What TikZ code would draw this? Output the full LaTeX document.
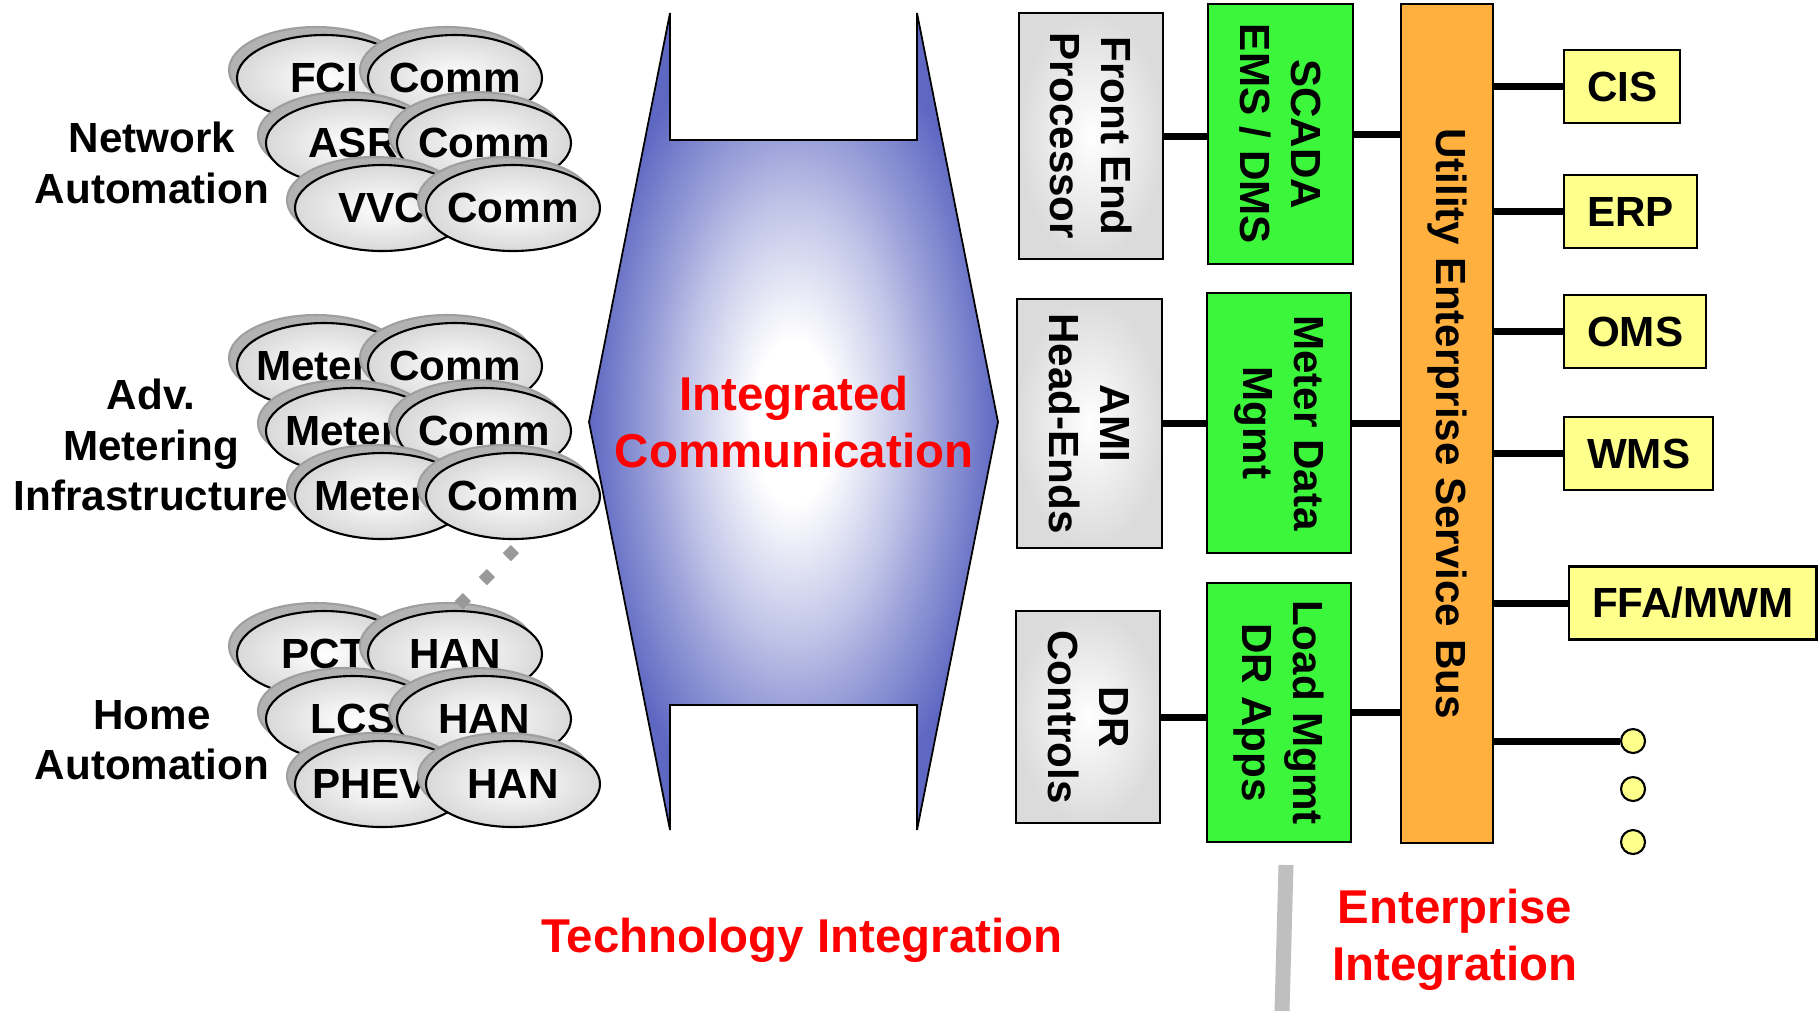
\documentclass[tikz,border=0pt]{standalone}
\usepackage{fontspec}
\setmainfont{Liberation Sans}
\usetikzlibrary{shapes.geometric,shadows}
\definecolor{commblue}{RGB}{94,104,194}
\definecolor{appgreen}{RGB}{60,246,60}
\definecolor{busorange}{RGB}{255,176,62}
\definecolor{extyellow}{RGB}{255,255,140}
\newcommand\lblfont{\fontsize{12}{14.4}\selectfont\bfseries}
\newcommand\redfont{\fontsize{13.5}{16.2}\selectfont\bfseries}
\pgfdeclareradialshading{commglow}{\pgfpoint{0bp}{0bp}}{color(0bp)=(white); color(5bp)=(white); color(13.5bp)=(commblue!40); color(17bp)=(commblue!60); color(25bp)=(commblue); color(50bp)=(commblue)}
\tikzset{
  ellnode/.style  = {ellipse, draw, line width=0.6pt, inner sep=0pt,
                     minimum width=17.4mm, minimum height=8.6mm,
                     inner color=white, outer color=gray!30, font=\lblfont,
                     drop shadow={shadow xshift=-0.8mm, shadow yshift=0.8mm,
                                  fill=gray!60, draw=gray!75, opacity=1}},
  rotbox/.style   = {rectangle, draw, line width=0.6pt, rotate=-90,
                     align=center, font=\lblfont, inner sep=0pt},
  sysbox/.style   = {rotbox, inner color=white, outer color=gray!28},
  appbox/.style   = {rotbox, fill=appgreen},
  busbox/.style   = {rotbox, fill=busorange},
  extbox/.style   = {rectangle, draw, line width=0.6pt, fill=extyellow,
                     font=\lblfont, inner xsep=2.3mm, minimum height=7.3mm,
                     anchor=west},
  enddot/.style   = {circle, draw, line width=0.6pt, fill=extyellow,
                     minimum size=2.4mm, inner sep=0pt},
  link/.style     = {line width=0.7mm},
  grouplbl/.style = {font=\lblfont, align=center},
  redlbl/.style   = {font=\redfont, text=red, align=center}
}
\begin{document}
\begin{tikzpicture}[x=0.1mm, y=-0.1mm]
  \useasboundingbox (0,0) rectangle (1818,1011);

  \coordinate (septop) at (1286,865);
  \coordinate (sepbot) at (1282,1011);
  \draw[gray!50, line width=1.5mm] (septop) -- (sepbot);

  \shadedraw[shading=commglow, line width=0.5pt]
    (670,13) -- (670,140) -- (917,140) -- (917,13) -- (998,422)
    -- (917,830) -- (917,705) -- (670,705) -- (670,830) -- (589,422) -- cycle;
  \node[redlbl] (commlbl) at (794,422) {Integrated\\Communication};

  \node[grouplbl] (netlbl)  at (152,163) {Network\\Automation};
  \node[grouplbl] (advlbl)  at (151,445) {Adv.\\Metering\\Infrastructure};
  \node[grouplbl] (homelbl) at (152,740) {Home\\Automation};

  \foreach \grp/\ytop/\la/\lb/\lc/\rt in
    {net/78/FCI/ASR/VVC/Comm,
     adv/366/Meter\hphantom{s}/Meter\hphantom{s}/Meter\hphantom{s}/Comm,
     home/654/PCT/LCS/PHEV\hphantom{s}/HAN}
    \foreach \row/\lt in {0/\la, 1/\lb, 2/\lc} {
      \node[ellnode] (\grp-l\row) at ({324+29*\row},{\ytop+65*\row}) {\makebox[0pt]{\lt}};
      \node[ellnode] (\grp-r\row) at ({455+29*\row},{\ytop+65*\row}) {\makebox[0pt]{\rt}};
    }

  \coordinate (ddtop) at (515,549);
  \coordinate (ddbot) at (458,606);
  \draw[gray!80, line width=1.15mm, dash pattern=on 1.15mm off 2.25mm] (ddtop) -- (ddbot);

  \node[sysbox, minimum width=24.6mm, minimum height=14.4mm] (fep)   at (1091,136)   {Front End\\Processor};
  \node[sysbox, minimum width=24.9mm, minimum height=14.5mm] (amihe) at (1089.5,423.5) {AMI\\Head-Ends};
  \node[sysbox, minimum width=21.2mm, minimum height=14.4mm] (drc)   at (1088,717)   {DR\\Controls};

  \node[appbox, minimum width=26mm, minimum height=14.5mm] (scada) at (1280.5,134) {SCADA\\EMS / DMS};
  \node[appbox, minimum width=26mm, minimum height=14.4mm] (mdm)   at (1279,423)   {Meter Data\\Mgmt};
  \node[appbox, minimum width=25.9mm, minimum height=14.4mm] (lmdr) at (1279,712.5) {Load Mgmt\\DR Apps};

  \node[busbox, minimum width=83.9mm, minimum height=9.2mm] (esb) at (1447,423.5) {Utility Enterprise Service Bus};

  \node[extbox] (cis) at (1563,86.5)  {CIS};
  \node[extbox] (erp) at (1563,211.5) {ERP};
  \node[extbox] (oms) at (1563,331.5) {OMS};
  \node[extbox] (wms) at (1563,453.5) {WMS};
  \node[extbox] (ffa) at (1568,603)   {FFA/MWM};

  \node[enddot] (dot1) at (1633,741) {};
  \node[enddot] (dot2) at (1633,789) {};
  \node[enddot] (dot3) at (1633,842) {};

  \draw[link] (fep.north)   -- (fep.north -| scada.south);
  \draw[link] (amihe.north) -- (amihe.north -| mdm.south);
  \draw[link] (drc.north)   -- (drc.north -| lmdr.south);
  \draw[link] (scada.north) -- (scada.north -| esb.south);
  \draw[link] (mdm.north)   -- (mdm.north -| esb.south);
  \draw[link] (lmdr.north)  -- (lmdr.north -| esb.south);
  \foreach \ext in {cis, erp, oms, wms, ffa}
    \draw[link] (\ext.west -| esb.north) -- (\ext.west);
  \draw[link] (dot1 -| esb.north) -- (dot1);

  \node[redlbl] (techlbl) at (802,940)  {Technology Integration};
  \node[redlbl] (entlbl)  at (1455,940) {Enterprise\\Integration};
\end{tikzpicture}
\end{document}
